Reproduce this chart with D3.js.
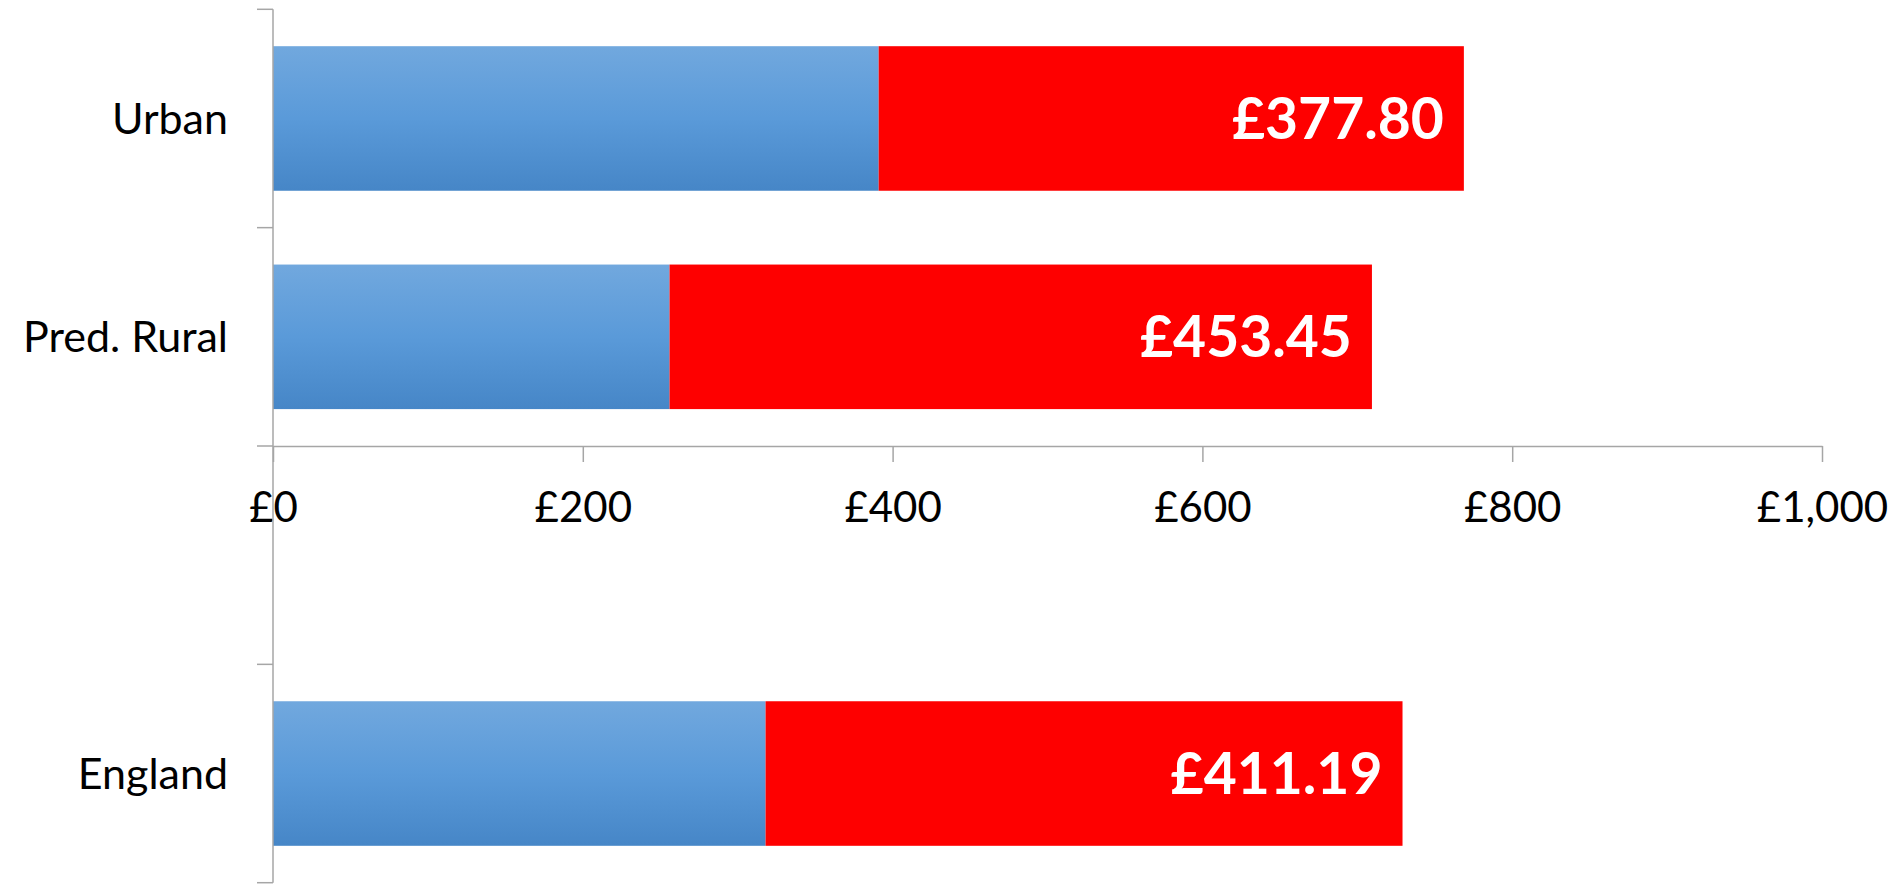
<!DOCTYPE html>
<html>
<head>
<meta charset="utf-8">
<script src="https://cdn.jsdelivr.net/npm/d3@7"></script>
<style>
  html, body { margin: 0; padding: 0; background: #fff; }
  svg { display: block; font-family: Lato, "Open Sans", sans-serif; }
</style>
</head>
<body>
<div id="chart"></div>
<script>
// Categories top to bottom; the empty one is the gap under the axis
const categories = ["Urban", "Pred. Rural", "", "England"]
const baseValues = [391, 256, null, 318]
const extraValues = [377.80, 453.45, null, 411.19]
const xTicks = [0, 200, 400, 600, 800, 1000]

const width = 1903
const height = 885

const svg = d3.select("#chart")
  .append("svg")
  .attr("width", width)
  .attr("height", height)

const defs = svg.append("defs")
const grad = defs.append("linearGradient")
  .attr("id", "blueGrad")
  .attr("x1", 0).attr("y1", 0)
  .attr("x2", 0).attr("y2", 1)
grad.append("stop").attr("offset", "0%").attr("stop-color", "#71a8de")
grad.append("stop").attr("offset", "50%").attr("stop-color", "#5a9ad9")
grad.append("stop").attr("offset", "100%").attr("stop-color", "#4686c7")

const x = d3.scaleLinear().domain([0, 1000]).range([273, 1822])

const y = d3.scaleBand()
  .domain(categories)
  .range([9.3, 882.7])
  .paddingInner(0.338)
  .paddingOuter(0.169)

const rows = categories.map((c, i) => ({
  cat: c,
  base: baseValues[i],
  extra: extraValues[i]
})).filter(d => d.base != null)

// Blue part
svg.selectAll("rect.base")
  .data(rows)
  .join("rect")
  .attr("class", "base")
  .attr("x", x(0))
  .attr("y", d => y(d.cat))
  .attr("width", d => x(d.base) - x(0))
  .attr("height", y.bandwidth())
  .attr("fill", "url(#blueGrad)")

// Red part
svg.selectAll("rect.extra")
  .data(rows)
  .join("rect")
  .attr("class", "extra")
  .attr("x", d => x(d.base))
  .attr("y", d => y(d.cat))
  .attr("width", d => x(d.base + d.extra) - x(d.base))
  .attr("height", y.bandwidth())
  .attr("fill", "#fe0000")

// Value labels inside the red part
svg.selectAll("text.val")
  .data(rows)
  .join("text")
  .attr("class", "val")
  .attr("x", d => x(d.base + d.extra) - 20)
  .attr("y", d => y(d.cat) + y.bandwidth() / 2)
  .attr("dy", "0.36em")
  .attr("text-anchor", "end")
  .attr("fill", "#fff")
  .attr("font-size", "57px")
  .attr("font-weight", "bold")
  .text(d => "£" + d3.format(".2f")(d.extra))

// X axis sits on the boundary above the blank category
const axisY = y("") - y.step() * y.paddingOuter()
const xAxis = svg.append("g")
  .attr("transform", `translate(0,${axisY})`)
  .call(d3.axisBottom(x)
    .tickValues(xTicks)
    .tickSize(16)
    .tickSizeOuter(0)
    .tickPadding(30)
    .tickFormat(d => "£" + d3.format(",")(d)))
xAxis.select(".domain").attr("stroke", "#a6a6a6").attr("stroke-width", 1.5)
xAxis.selectAll(".tick line").attr("stroke", "#a6a6a6").attr("stroke-width", 1.5)
xAxis.selectAll(".tick text")
  .attr("fill", "#000")
  .attr("font-size", "42px")
  .attr("font-family", "Lato, sans-serif")

// Y axis with ticks between categories
const yr = y.range()
svg.append("line")
  .attr("x1", x(0)).attr("x2", x(0))
  .attr("y1", yr[0]).attr("y2", yr[1])
  .attr("stroke", "#a6a6a6")
  .attr("stroke-width", 1.5)

const bounds = categories.map(c => y(c) - y.step() * y.paddingOuter()).concat([yr[1]])
svg.selectAll("line.ytick")
  .data(bounds)
  .join("line")
  .attr("class", "ytick")
  .attr("x1", x(0) - 16).attr("x2", x(0))
  .attr("y1", d => d).attr("y2", d => d)
  .attr("stroke", "#a6a6a6")
  .attr("stroke-width", 1.5)

// Category labels
svg.selectAll("text.cat")
  .data(categories.filter(c => c !== ""))
  .join("text")
  .attr("class", "cat")
  .attr("x", 228)
  .attr("y", d => y(d) + y.bandwidth() / 2)
  .attr("dy", "0.36em")
  .attr("text-anchor", "end")
  .attr("fill", "#000")
  .attr("font-size", "43px")
  .text(d => d)
</script>
</body>
</html>
